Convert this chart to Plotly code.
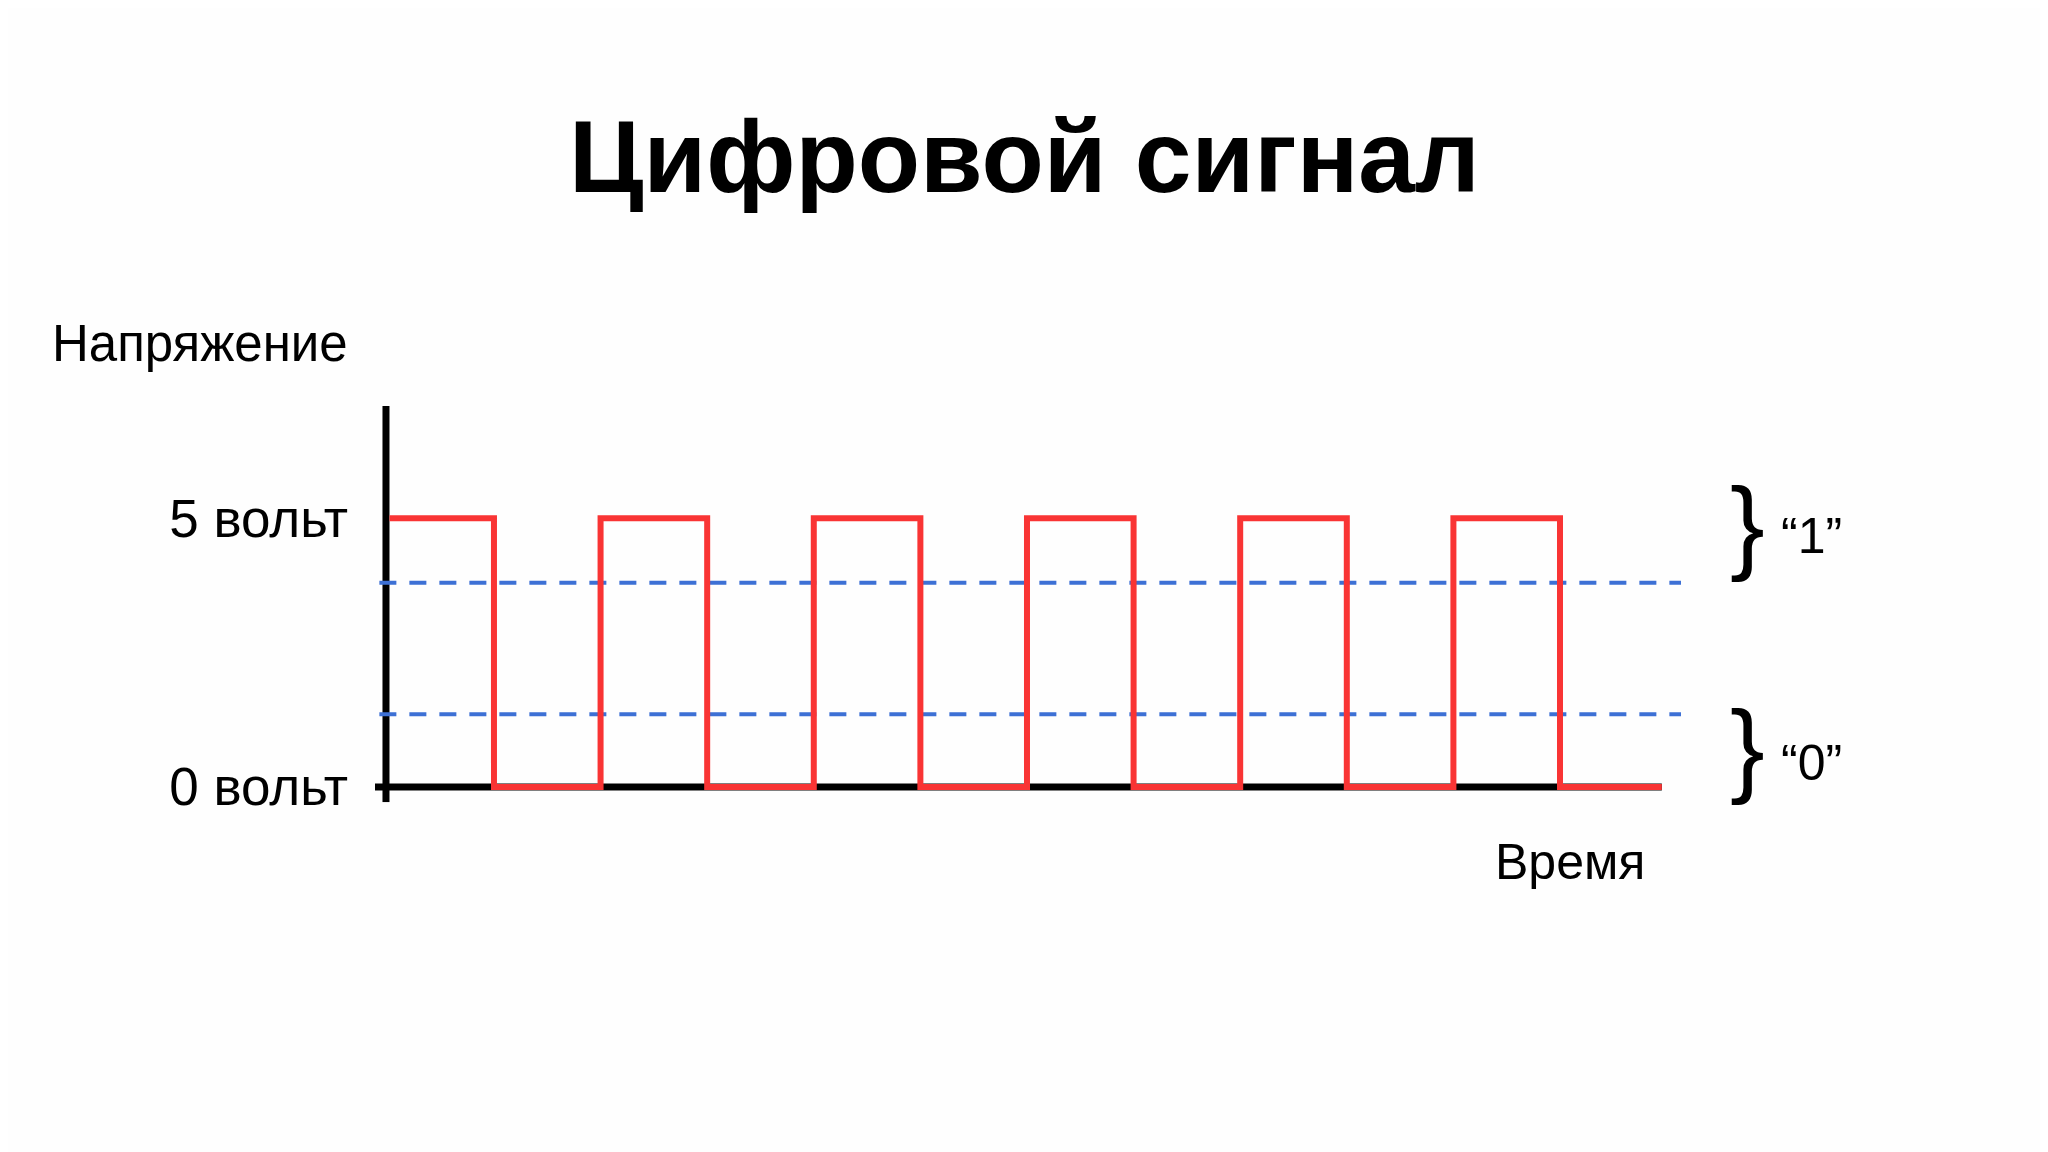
import plotly.graph_objects as go

W, H = 2048, 1152

# square wave: time (half-periods) and voltage
wave_t = [0.02, 1, 1, 2, 2, 3, 3, 4, 4, 5, 5, 6, 6, 7, 7, 8, 8, 9, 9, 10, 10, 11, 11, 11.955]
wave_v = [5, 5, 0, 0, 5, 5, 0, 0, 5, 5, 0, 0, 5, 5, 0, 0, 5, 5, 0, 0, 5, 5, 0, 0]

# logic thresholds (volts)
threshold_high = 3.8
threshold_low = 1.35

# voltage ticks
tick_vals = [0, 5]
tick_text = ["0 вольт", "5 вольт"]

x_range = [-0.116, 12.135]
y_range = [-0.285, 7.087]

FONT = "Liberation Sans, Arial, Helvetica, sans-serif"
RED = "#F93434"
BLUE = "#3D70D5"
DX = -8  # page offset correction


def px_x(p):
    return (p + DX) / W


def px_y(p):
    return 1 - p / H


fig = go.Figure()

# axes drawn as black lines
fig.add_trace(go.Scatter(
    x=[-0.013, -0.013], y=y_range, mode="lines",
    line=dict(color="black", width=7), hoverinfo="skip",
))
fig.add_trace(go.Scatter(
    x=[x_range[0], 11.955], y=[0, 0], mode="lines",
    line=dict(color="black", width=7), hoverinfo="skip",
))

# threshold lines
for lvl in (threshold_high, threshold_low):
    fig.add_trace(go.Scatter(
        x=[-0.075, x_range[1]], y=[lvl, lvl], mode="lines",
        line=dict(color=BLUE, width=4, dash="17px,13px"), hoverinfo="skip",
    ))

fig.add_trace(go.Scatter(
    x=wave_t, y=wave_v, mode="lines",
    line=dict(color=RED, width=6), hoverinfo="skip",
))

annotations = [
    dict(text="<b>Цифровой сигнал</b>", x=px_x(1024), y=px_y(151), xanchor="center", yanchor="middle",
         font=dict(size=102, color="black")),
    dict(text="Напряжение", x=px_x(50), y=px_y(340), xanchor="left", yanchor="middle",
         font=dict(size=51, color="black")),
    dict(text="Время", x=px_x(1493), y=px_y(865), xanchor="left", yanchor="middle",
         font=dict(size=50, color="black")),
    dict(text="}", x=px_x(1747), y=px_y(522), xanchor="center", yanchor="middle",
         font=dict(size=104, color="black")),
    dict(text="}", x=px_x(1747), y=px_y(748), xanchor="center", yanchor="middle",
         font=dict(size=104, color="black")),
    dict(text="“1”", x=px_x(1779), y=px_y(535), xanchor="left", yanchor="middle",
         font=dict(size=50, color="black")),
    dict(text="“0”", x=px_x(1779), y=px_y(764), xanchor="left", yanchor="middle",
         font=dict(size=50, color="black")),
]
for a in annotations:
    a.update(xref="paper", yref="paper", showarrow=False)

fig.update_layout(
    width=W, height=H,
    margin=dict(l=0, r=0, t=0, b=0),
    paper_bgcolor="#FEFEFE",
    plot_bgcolor="rgba(0,0,0,0)",
    showlegend=False,
    font=dict(family=FONT, color="black"),
    annotations=annotations,
    xaxis=dict(
        domain=[px_x(375), px_x(1681)], range=x_range,
        showgrid=False, zeroline=False, showline=False, showticklabels=False,
    ),
    yaxis=dict(
        domain=[px_y(804), px_y(403)], range=y_range,
        showgrid=False, zeroline=False, showline=False,
        tickvals=tick_vals, ticktext=tick_text, ticks="",
        ticklabelstandoff=26, tickfont=dict(size=53, color="black"),
    ),
)

fig.write_html("out.html")
